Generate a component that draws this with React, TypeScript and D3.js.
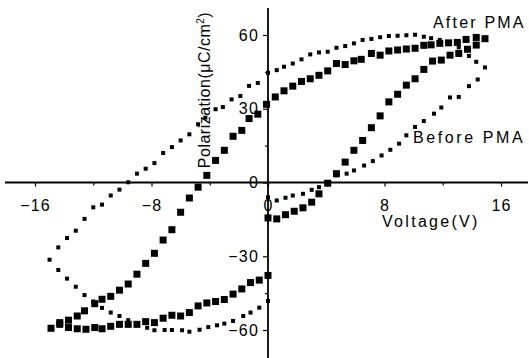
import { FC, useEffect, useRef } from 'react';
import * as d3 from 'd3';

// After PMA loop (large squares), in sweep order: 0 -> +15 -> -15 -> 0
const afterVoltage = [
  0.0, 0.6, 1.2, 1.8, 2.4, 3.0, 3.5, 4.1, 4.7, 5.3, 5.9, 6.5, 7.1, 7.7, 8.3, 8.9, 9.5, 10.1, 10.7, 11.3, 11.9, 12.5, 13.1, 13.7, 14.3, 14.9,
  14.3, 13.6, 13.0, 12.4, 11.8, 11.2, 10.7, 10.1, 9.5, 8.9, 8.3, 7.7, 7.1, 6.4, 5.9, 5.3, 4.7, 4.1, 3.5, 2.9, 2.3, 1.7, 1.1, 0.5,
  -0.1, -0.7, -1.3, -1.8, -2.4, -3.0, -3.6, -4.2, -4.8, -5.4, -6.0, -6.6, -7.2, -7.8, -8.4, -9.0, -9.6, -10.2, -10.8, -11.4, -11.9,
  -12.6, -13.1, -13.7, -14.3, -14.9,
  -14.3, -13.7, -13.1, -12.5, -11.9, -11.4, -10.8, -10.2, -9.6, -9.0, -8.4, -7.8, -7.2, -6.6, -6.0, -5.4, -4.8, -4.2, -3.6, -3.0,
  -2.4, -1.8, -1.2, -0.6, 0.0,
];
const afterPolarization = [
  -14.4, -14.8, -13.1, -11.7, -10.3, -8.0, -4.6, -0.3, 3.6, 8.3, 13.1, 17.1, 22.3, 27.1, 32.8, 35.9, 39.6, 42.2, 46.0, 49.4, 49.8, 51.8, 52.5, 54.2, 55.9, 58.5,
  59.0, 58.2, 57.0, 56.8, 56.6, 56.0, 55.8, 54.6, 54.3, 53.9, 53.5, 51.8, 52.5, 50.1, 49.5, 48.0, 48.4, 45.4, 43.6, 42.2, 41.1, 39.2, 37.3, 34.8,
  31.8, 27.8, 26.0, 21.2, 18.8, 13.1, 9.0, 2.9, -1.9, -6.3, -12.1, -19.2, -23.4, -28.8, -32.9, -37.3, -41.3, -43.8, -46.3, -47.5, -49.3,
  -52.2, -54.3, -56.0, -57.0, -59.3,
  -57.7, -59.0, -59.5, -59.7, -59.0, -59.5, -58.5, -57.7, -57.7, -57.7, -56.6, -57.0, -55.2, -54.0, -54.3, -52.9, -50.2, -49.0, -48.4, -47.6,
  -45.4, -43.3, -40.7, -39.7, -37.8,
];

// Before PMA loop (small dots)
const beforeVoltage = [
  0.0, 0.6, 1.2, 1.7, 2.4, 3.0, 3.5, 4.1, 4.7, 5.4, 5.9, 6.6, 7.2, 7.8, 8.4, 9.0, 9.5, 10.1, 10.7, 11.4, 11.9, 12.5, 13.1, 13.8, 14.4, 14.9,
  14.3, 13.8, 13.1, 12.5, 11.8, 11.2, 10.7, 10.1, 9.5, 8.9, 8.3, 7.7, 7.1, 6.5, 5.9, 5.3, 4.7, 4.1, 3.5, 2.9, 2.3, 1.7, 1.1, 0.6, 0.0,
  -0.7, -1.3, -1.9, -2.5, -3.1, -3.6, -4.3, -4.8, -5.4, -6.0, -6.6, -7.2, -7.8, -8.4, -9.0, -9.6, -10.2, -10.8, -11.4, -12.0, -12.6,
  -13.2, -13.8, -14.4, -15.0,
  -14.4, -13.8, -13.2, -12.6, -12.0, -11.4, -10.8, -10.2, -9.6, -9.0, -8.3, -7.8, -7.1, -6.6, -5.9, -5.4, -4.7, -4.1, -3.5, -3.0,
  -2.4, -1.7, -1.2, -0.6, 0.0,
];
const beforePolarization = [
  -6.0, -7.3, -6.2, -5.3, -4.6, -3.0, -1.9, 0.1, 2.9, 3.6, 4.9, 6.9, 8.7, 11.0, 13.3, 15.8, 19.2, 22.6, 25.0, 28.0, 30.5, 34.6, 34.8, 39.2, 41.9, 46.8,
  49.1, 51.5, 55.0, 57.0, 58.0, 58.7, 59.3, 60.1, 59.9, 59.7, 59.6, 59.1, 58.4, 58.0, 56.6, 55.5, 54.8, 53.2, 52.9, 52.1, 50.1, 48.4, 47.1, 45.7, 44.6,
  40.5, 39.3, 35.2, 33.8, 30.7, 29.8, 26.4, 23.7, 19.6, 17.1, 14.4, 12.0, 7.9, 5.6, 3.6, 0.1, -2.9, -5.3, -9.0, -10.1, -14.8,
  -19.6, -22.6, -26.4, -31.4,
  -35.6, -39.1, -42.4, -45.8, -48.4, -51.0, -52.9, -54.3, -56.0, -57.8, -59.1, -60.1, -60.0, -60.0, -60.1, -60.7, -59.9, -58.8, -58.1, -57.4,
  -56.3, -54.3, -52.9, -50.9, -48.2,
];

const xMajorTicks = [-16, -8, 0, 8, 16];
const xMinorTicks = [-12, -4, 4, 12];
const yMajorTicks = [60, 30, 0, -30, -60];
const yMinorTicks = [45, 15, -15, -45];

const W = 529;
const H = 358;
const FONT = '"Liberation Sans", Arial, Helvetica, sans-serif';

const App: FC = () => {
  const svgRef = useRef<SVGSVGElement>(null);

  useEffect(() => {
    if (!svgRef.current) return;
    const svg = d3.select(svgRef.current);
    svg.selectAll('*').remove();

    const x = d3.scaleLinear().domain([-16, 16]).range([35, 501]);
    const y = d3.scaleLinear().domain([-60, 60]).range([330, 35]);
    const x0 = x(0);
    const y0 = y(0);

    // axis lines crossing at the origin
    svg.append('line')
      .attr('x1', 5).attr('x2', W - 1)
      .attr('y1', y0).attr('y2', y0)
      .attr('stroke', '#000').attr('stroke-width', 1.8);
    svg.append('line')
      .attr('x1', x0).attr('x2', x0)
      .attr('y1', 8).attr('y2', H)
      .attr('stroke', '#000').attr('stroke-width', 1.8);

    // x ticks
    const gx = svg.append('g').attr('transform', `translate(0,${y0})`);
    gx.call(d3.axisBottom(x).tickValues(xMajorTicks).tickSize(4).tickPadding(13).tickFormat(d3.format('d')));
    const gxm = svg.append('g').attr('transform', `translate(0,${y0})`);
    gxm.call(d3.axisBottom(x).tickValues(xMinorTicks).tickSize(3).tickFormat(() => ''));

    // y ticks
    const gy = svg.append('g').attr('transform', `translate(${x0},0)`);
    gy.call(d3.axisLeft(y).tickValues(yMajorTicks).tickSize(5).tickPadding(4).tickFormat(d3.format('d')));
    const gym = svg.append('g').attr('transform', `translate(${x0},0)`);
    gym.call(d3.axisLeft(y).tickValues(yMinorTicks).tickSize(3).tickFormat(() => ''));

    [gx, gxm, gy, gym].forEach(g => {
      g.select('.domain').remove();
      g.selectAll('line').attr('stroke', '#000').attr('stroke-width', 1.2);
      g.selectAll('text')
        .attr('font-family', FONT)
        .attr('font-size', 16)
        .attr('letter-spacing', 1.2)
        .attr('fill', '#000');
    });

    // Before PMA: small dots
    svg.append('g')
      .selectAll('rect')
      .data(d3.range(beforeVoltage.length))
      .enter()
      .append('rect')
      .attr('x', i => x(beforeVoltage[i]) - 2)
      .attr('y', i => y(beforePolarization[i]) - 2)
      .attr('width', 4)
      .attr('height', 4)
      .attr('fill', '#000');

    // After PMA: large squares
    svg.append('g')
      .selectAll('rect')
      .data(d3.range(afterVoltage.length))
      .enter()
      .append('rect')
      .attr('x', i => x(afterVoltage[i]) - 3.5)
      .attr('y', i => y(afterPolarization[i]) - 3.5)
      .attr('width', 7)
      .attr('height', 7)
      .attr('fill', '#000');

    // axis titles
    svg.append('text')
      .attr('x', 382).attr('y', 227)
      .attr('font-family', FONT).attr('font-size', 16)
      .attr('letter-spacing', 2.3)
      .text('Voltage(V)');

    const yt = svg.append('text')
      .attr('transform', 'translate(210,90) rotate(-90)')
      .attr('text-anchor', 'middle')
      .attr('font-family', FONT).attr('font-size', 16)
      .attr('letter-spacing', 0.5);
    yt.append('tspan').text('Polarization(\u03bcC/cm');
    yt.append('tspan').attr('font-size', 10).attr('dy', -6).text('2');
    yt.append('tspan').attr('dy', 6).text(')');

    // loop labels
    svg.append('text')
      .attr('x', 433).attr('y', 28)
      .attr('font-family', FONT).attr('font-size', 16)
      .attr('letter-spacing', 2.2)
      .text('After PMA');
    svg.append('text')
      .attr('x', 413).attr('y', 143)
      .attr('font-family', FONT).attr('font-size', 16)
      .attr('letter-spacing', 2.6)
      .text('Before PMA');
  }, []);

  return (
    <svg
      ref={svgRef}
      width={W}
      height={H}
      style={{ position: 'absolute', left: 0, top: 0, background: '#fff' }}
    />
  );
};

export default App;
